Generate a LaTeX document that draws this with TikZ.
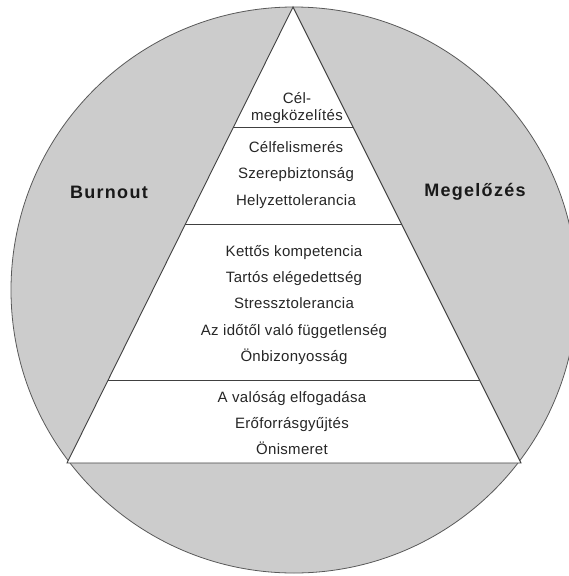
\documentclass[tikz,border=0pt]{standalone}
\usepackage{fontspec}
\setmainfont{Liberation Sans}
\newfontfamily\sidefont[LetterSpace=7]{Liberation Sans}
\newfontfamily\itemfont[LetterSpace=2]{Liberation Sans}
\usetikzlibrary{calc}

\begin{document}
\begin{tikzpicture}[x=1pt,y=-1pt,
    item/.style={font=\itemfont\fontsize{15}{26.3}\selectfont, text=black!85, align=center, inner sep=0pt},
    side/.style={font=\sidefont\bfseries\fontsize{18}{20}\selectfont, text=black!90, inner sep=0pt},
    rule/.style={black!75, line width=0.9pt}]
    \useasboundingbox (0,0) rectangle (569,576);
    \clip (0,0) rectangle (569,576);

    % Grey disc behind the pyramid
    \draw[black!65, line width=0.8pt, fill=black!20] (294,290) circle (283);

    % Pyramid
    \coordinate (apex) at (293,7);
    \coordinate (bl) at (67,463);
    \coordinate (br) at (521,463);
    \draw[rule, fill=white] (apex) -- (bl) -- (br) -- cycle;

    % Level separators
    \foreach \t/\n in {0.265/a, 0.4776/b, 0.8184/c}
      \draw[rule] ($(apex)!\t!(bl)$) coordinate (l\n) -- ($(apex)!\t!(br)$) coordinate (r\n);

    % Side labels
    \node[side] (burnout) at (109,192) {Burnout};
    \node[side] (prevent) at (475,192) {Megelőzés};

    % Level texts
    \node[item, font=\itemfont\fontsize{15}{17}\selectfont] (goal) at (297,108) {Cél-\\megközelítés};
    \node[item] (role) at (296,175) {Célfelismerés\\Szerepbiztonság\\Helyzettolerancia};
    \node[item] (comp) at (294,305) {Kettős kompetencia\\Tartós elégedettség\\Stressztolerancia\\Az időtől való függetlenség\\Önbizonyosság};
    \node[item] (base) at (292,423) {A valóság elfogadása\\Erőforrásgyűjtés\\Önismeret};
\end{tikzpicture}
\end{document}
